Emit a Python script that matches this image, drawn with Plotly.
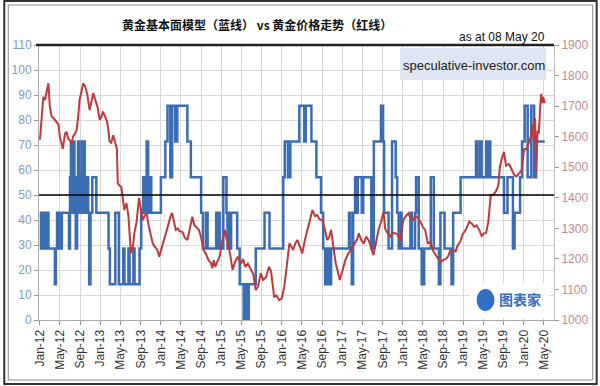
import plotly.graph_objects as go

# ---------------- data ----------------
gold_dates = [
    "2012-01-02","2012-01-12","2012-01-22","2012-02-01","2012-02-13","2012-02-22","2012-03-01","2012-03-13","2012-03-25",
    "2012-04-10","2012-04-22","2012-05-01","2012-05-10","2012-05-19","2012-06-01","2012-06-10","2012-06-19","2012-07-01",
    "2012-07-13","2012-07-19","2012-08-01","2012-08-10","2012-08-19","2012-08-28","2012-09-10","2012-09-19","2012-10-01",
    "2012-10-13","2012-10-28","2012-11-10","2012-11-19","2012-12-01","2012-12-13","2012-12-28","2013-01-07","2013-01-16",
    "2013-01-28","2013-02-07","2013-02-16","2013-02-25","2013-03-07","2013-03-19","2013-04-01","2013-04-10","2013-04-16",
    "2013-04-25","2013-05-07","2013-05-16","2013-05-25","2013-06-07","2013-06-19","2013-07-04","2013-07-16","2013-07-25",
    "2013-08-07","2013-08-22","2013-09-01","2013-09-13","2013-09-25","2013-10-07","2013-10-19","2013-11-01","2013-11-13",
    "2013-11-25","2013-12-10","2013-12-22","2014-01-07","2014-01-22","2014-02-07","2014-02-22","2014-03-01","2014-03-10",
    "2014-03-22","2014-04-01","2014-04-13","2014-04-25","2014-05-10","2014-05-25","2014-06-10","2014-06-25","2014-07-10",
    "2014-07-22","2014-08-07","2014-08-19","2014-09-01","2014-09-16","2014-10-01","2014-10-16","2014-11-01","2014-11-07",
    "2014-11-16","2014-11-25","2014-12-07","2014-12-22","2015-01-07","2015-01-22","2015-02-01","2015-02-10","2015-02-25",
    "2015-03-10","2015-03-25","2015-04-10","2015-04-22","2015-05-01","2015-05-13","2015-05-25","2015-06-10","2015-06-28",
    "2015-07-13","2015-07-28","2015-08-10","2015-08-28","2015-09-10","2015-09-28","2015-10-16","2015-10-28","2015-11-07",
    "2015-11-16","2015-12-01","2015-12-16","2016-01-01","2016-01-16","2016-02-01","2016-02-16","2016-02-28","2016-03-10",
    "2016-03-22","2016-04-04","2016-04-19","2016-05-04","2016-05-19","2016-06-04","2016-06-19","2016-07-04","2016-07-19",
    "2016-08-01","2016-08-16","2016-09-01","2016-09-16","2016-10-01","2016-10-13","2016-10-25","2016-11-10","2016-11-22",
    "2016-12-04","2016-12-16","2017-01-01","2017-01-19","2017-02-04","2017-02-19","2017-03-04","2017-03-19","2017-04-01",
    "2017-04-10","2017-04-25","2017-05-10","2017-05-25","2017-06-10","2017-06-25","2017-07-07","2017-07-22","2017-08-07",
    "2017-08-22","2017-09-07","2017-09-16","2017-09-25","2017-10-16","2017-11-01","2017-11-16","2017-12-01","2017-12-16",
    "2018-01-04","2018-01-19","2018-02-04","2018-02-19","2018-03-04","2018-03-19","2018-04-04","2018-04-19","2018-05-01",
    "2018-05-16","2018-06-01","2018-06-16","2018-07-01","2018-07-16","2018-08-01","2018-08-16","2018-09-01","2018-09-16",
    "2018-10-01","2018-10-16","2018-11-01","2018-11-16","2018-11-28","2018-12-13","2018-12-28","2019-01-16","2019-02-07",
    "2019-02-22","2019-03-07","2019-03-22","2019-04-07","2019-04-22","2019-05-07","2019-05-19","2019-06-01","2019-06-16",
    "2019-07-01","2019-07-16","2019-08-01","2019-08-10","2019-08-22","2019-09-04","2019-09-16","2019-10-04","2019-10-19",
    "2019-11-04","2019-11-19","2019-12-04","2019-12-19","2020-01-04","2020-01-19","2020-02-01","2020-02-13","2020-02-22",
    "2020-03-01","2020-03-10","2020-03-16","2020-03-25","2020-04-01","2020-04-10","2020-04-16","2020-04-22","2020-04-28",
    "2020-05-07",
]
gold_price = [
    1590,1660,1730,1720,1750,1775,1700,1665,1660,
    1649,1640,1600,1579,1560,1610,1616,1595,1589,
    1580,1600,1610,1622,1660,1720,1760,1775,1764,
    1740,1687,1720,1743,1720,1700,1655,1665,1682,
    1670,1655,1630,1584,1580,1605,1579,1560,1448,
    1440,1436,1400,1360,1383,1340,1219,1240,1285,
    1320,1399,1360,1327,1340,1350,1310,1273,1250,
    1240,1230,1207,1240,1262,1300,1327,1340,1350,
    1320,1295,1300,1290,1289,1270,1262,1300,1338,
    1310,1300,1295,1270,1229,1215,1196,1185,1169,
    1196,1174,1190,1207,1260,1295,1265,1251,1210,
    1164,1190,1207,1195,1185,1200,1174,1185,1164,
    1150,1098,1110,1153,1131,1140,1174,1160,1110,
    1076,1080,1065,1070,1109,1180,1251,1240,1229,
    1250,1262,1240,1218,1260,1295,1330,1360,1340,
    1344,1330,1327,1300,1262,1270,1295,1230,1185,
    1160,1131,1160,1196,1215,1229,1240,1251,1265,
    1284,1262,1250,1273,1260,1230,1213,1250,1295,
    1320,1354,1300,1290,1273,1285,1284,1280,1260,
    1327,1340,1349,1330,1327,1340,1333,1320,1305,
    1295,1251,1255,1229,1215,1202,1190,1196,1200,
    1207,1230,1229,1225,1245,1255,1280,1295,1322,
    1315,1305,1310,1295,1275,1284,1285,1320,1409,
    1410,1420,1440,1500,1530,1550,1505,1510,1495,
    1475,1470,1480,1490,1560,1560,1580,1600,1640,
    1590,1660,1480,1620,1610,1700,1740,1710,1730,
    1710,
]

model_dates = [
    "2012-01-01","2012-01-08","2012-01-14","2012-01-22","2012-01-28","2012-02-05","2012-02-13","2012-02-22",
    "2012-04-01","2012-04-07","2012-04-14","2012-04-20","2012-04-26","2012-05-04","2012-05-13","2012-06-25",
    "2012-07-01","2012-07-07","2012-07-14","2012-07-22","2012-07-28","2012-08-05","2012-08-13","2012-08-19",
    "2012-08-25","2012-09-01","2012-09-10","2012-09-16","2012-09-22","2012-09-28","2012-10-04","2012-10-10",
    "2012-10-19","2012-10-25","2012-11-02","2012-11-13","2012-12-07","2013-02-19","2013-02-27","2013-04-01",
    "2013-04-22","2013-05-19","2013-05-26","2013-06-19","2013-06-26","2013-07-19","2013-07-26","2013-08-25",
    "2013-09-04","2013-09-16","2013-09-28","2013-10-07","2013-10-16","2013-10-22","2013-10-28","2013-11-04",
    "2014-01-01","2014-01-28","2014-02-10","2014-02-27","2014-03-10","2014-03-28","2014-04-10","2014-06-10",
    "2014-07-01","2014-09-01","2014-09-13","2014-10-01","2014-10-10","2014-12-01","2014-12-07","2014-12-13",
    "2014-12-22","2015-01-13","2015-02-01","2015-02-07","2015-02-19","2015-02-25","2015-03-01","2015-04-07",
    "2015-04-22","2015-05-16","2015-05-25","2015-06-07","2015-06-16","2015-07-28","2015-09-19","2015-10-19",
    "2016-01-10","2016-01-19","2016-02-07","2016-02-22","2016-04-16","2016-05-16","2016-05-25","2016-06-28",
    "2016-07-28","2016-08-25","2016-09-07","2016-09-19","2016-10-01","2016-10-10","2016-10-25","2017-02-10",
    "2017-02-19","2017-02-27","2017-03-07","2017-03-19","2017-03-25","2017-04-04","2017-04-28","2017-05-07",
    "2017-06-25","2017-07-10","2017-08-22","2017-09-04","2017-09-10","2017-10-07","2017-10-28","2017-11-19",
    "2017-11-28","2017-12-07","2017-12-16","2017-12-25","2018-02-16","2018-02-25","2018-03-16","2018-03-22",
    "2018-04-07","2018-04-25","2018-05-10","2018-06-19","2018-07-07","2018-08-07","2018-08-16","2018-09-10",
    "2018-10-22","2018-11-01","2018-12-16","2019-03-19","2019-03-28","2019-04-13","2019-04-22","2019-05-19",
    "2019-05-28","2019-06-04","2019-06-13","2019-09-04","2019-09-25","2019-10-28","2019-11-07","2019-12-10",
    "2019-12-22","2020-01-07","2020-01-25","2020-02-16","2020-03-04","2020-03-16","2020-05-07",
]
model_value = [
    42.9,28.6,42.9,28.6,42.9,28.6,42.9,28.6,
    14.3,28.6,42.9,28.6,42.9,28.6,42.9,28.6,
    57.1,71.4,42.9,71.4,57.1,28.6,57.1,71.4,
    42.9,57.1,71.4,42.9,71.4,57.1,42.9,57.1,
    42.9,14.3,42.9,57.1,42.9,28.6,14.3,42.9,
    14.3,28.6,14.3,28.6,14.3,28.6,14.3,28.6,
    42.9,57.1,42.9,71.4,57.1,42.9,57.1,42.9,
    57.1,71.4,85.7,57.1,85.7,71.4,85.7,71.4,
    57.1,42.9,28.6,42.9,28.6,42.9,28.6,42.9,
    28.6,57.1,42.9,28.6,42.9,28.6,42.9,28.6,
    14.3,0.0,14.3,0.0,14.3,28.6,42.9,28.6,
    57.1,71.4,57.1,71.4,85.7,71.4,85.7,71.4,
    57.1,42.9,28.6,14.3,28.6,14.3,28.6,42.9,
    28.6,14.3,42.9,57.1,42.9,57.1,42.9,57.1,
    28.6,71.4,85.7,71.4,42.9,28.6,71.4,57.1,
    42.9,28.6,42.9,28.6,42.9,28.6,42.9,57.1,
    28.6,14.3,28.6,57.1,28.6,14.3,42.9,28.6,
    14.3,42.9,57.1,71.4,57.1,71.4,57.1,71.4,
    57.1,71.4,57.1,42.9,57.1,28.6,42.9,57.1,
    71.4,85.7,57.1,85.7,57.1,71.4,71.4,
]

ref_level = 50
title_text = "黄金基本面模型（蓝线） vs 黄金价格走势（红线）"
date_note = "as at 08 May 20"
source_text = "speculative-investor.com"
logo_text = "图表家"

# ---------------- figure ----------------
BLUE = "#3b6db3"
RED = "#c0393b"
FONT = "Liberation Sans, Arial, sans-serif"

fig = go.Figure()
fig.add_trace(go.Scatter(x=model_dates, y=model_value, mode="lines",
                         line=dict(color=BLUE, width=2.5, shape="hv"),
                         yaxis="y", showlegend=False, hoverinfo="skip"))
fig.add_trace(go.Scatter(x=gold_dates, y=gold_price, mode="lines",
                         line=dict(color=RED, width=2),
                         yaxis="y2", showlegend=False, hoverinfo="skip"))

W, H = 600, 386
L, R, T, B = 36, 45, 45, 66
pw, ph = W - L - R, H - T - B

def px(x):
    return (x - L) / pw

def py(y):
    return (H - B - y) / ph

fig.update_layout(
    width=W, height=H,
    margin=dict(l=L, r=R, t=T, b=B, pad=0),
    paper_bgcolor="white", plot_bgcolor="white",
    font=dict(family=FONT, size=12, color="#333"),
    xaxis=dict(type="date", range=["2011-12-27", "2020-07-02"],
               tick0="2012-01-01", dtick="M4", tickformat="%b-%y",
               tickangle=-90, showgrid=True, gridcolor="#d8d8d8", gridwidth=1,
               ticks="outside", ticklen=4, tickcolor="#999",
               showline=True, linecolor="#aaa", linewidth=1,
               tickfont=dict(size=12, color="#333", family=FONT), zeroline=False),
    yaxis=dict(range=[0, 110], dtick=10, showgrid=True, gridcolor="#d8d8d8",
               ticks="outside", ticklen=4, tickcolor="#999",
               showline=True, linecolor="#aaa", zeroline=False,
               tickfont=dict(size=12, color="#7f9bc3", family=FONT)),
    yaxis2=dict(range=[1000, 1900], dtick=100, overlaying="y", side="right",
                showgrid=False, ticks="outside", ticklen=4, tickcolor="#999",
                showline=True, linecolor="#bbb", zeroline=False,
                tickfont=dict(size=12, color="#c38c8e", family=FONT)),
)

shapes = [
    # 50 reference line
    dict(type="line", xref="paper", x0=0, x1=1, yref="y", y0=ref_level, y1=ref_level,
         line=dict(color="black", width=1.5), layer="above"),
    # plot top border
    dict(type="line", xref="paper", x0=px(33), x1=1, yref="paper", y0=1, y1=1,
         line=dict(color="#222", width=2.5), layer="above"),
    # source box
    dict(type="rect", xref="paper", yref="paper", x0=px(400), x1=px(547), y0=py(80), y1=py(48),
         fillcolor="#dde6f1", line=dict(width=0), layer="above"),
    # logo background
    dict(type="rect", xref="paper", yref="paper", x0=px(470), x1=px(550), y0=py(318), y1=py(283),
         fillcolor="white", line=dict(width=0), layer="above"),
    dict(type="circle", xref="paper", yref="paper", x0=px(477), x1=px(495), y0=py(311), y1=py(289),
         fillcolor="#2f6fc4", line=dict(width=0), layer="above"),
    # outer frames
    dict(type="rect", xref="paper", yref="paper", x0=px(1), x1=px(598), y0=py(384), y1=py(1),
         line=dict(color="#333", width=2), layer="above"),
    dict(type="rect", xref="paper", yref="paper", x0=px(5), x1=px(594), y0=py(380), y1=py(5),
         line=dict(color="#888", width=1), layer="above"),
]
fig.update_layout(shapes=shapes)

annotations = [
    dict(text="<b>" + title_text + "</b>", xref="paper", yref="paper", x=px(256), y=py(25),
         xanchor="center", yanchor="middle", showarrow=False,
         font=dict(family="Noto Sans CJK SC", size=12, color="#111")),
    dict(text=date_note, xref="paper", yref="paper", x=px(548), y=py(37),
         xanchor="right", yanchor="middle", showarrow=False,
         font=dict(family=FONT, size=12, color="#111")),
    dict(text=source_text, xref="paper", yref="paper", x=px(474), y=py(65),
         xanchor="center", yanchor="middle", showarrow=False,
         font=dict(family=FONT, size=13, color="#222")),
    dict(text="<b>" + logo_text + "</b>", xref="paper", yref="paper", x=px(521), y=py(299),
         xanchor="center", yanchor="middle", showarrow=False,
         font=dict(family="Noto Sans CJK SC", size=14, color="#2f6fc4")),
]
fig.update_layout(annotations=annotations)

fig.write_html(
    "out.html",
    config={"displayModeBar": False},
    post_script="document.body.style.margin='0';document.body.style.padding='0';"
                "document.body.style.overflow='hidden';",
)
